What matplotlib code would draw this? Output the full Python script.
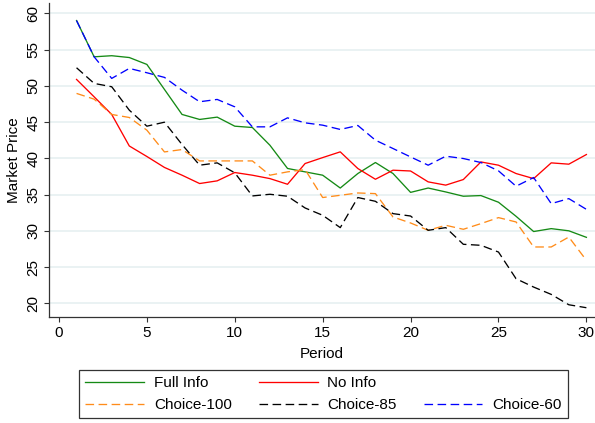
import matplotlib
matplotlib.use("Agg")
import matplotlib.pyplot as plt
from matplotlib.lines import Line2D
import numpy as np

# Average market price per trading period under each information treatment
periods = list(range(1, 31))

full_info = [59.0, 54.0, 54.15, 53.9, 52.95, 49.5, 46.05, 45.36, 45.68, 44.43,
             44.25, 41.8, 38.6, 38.13, 37.67, 35.9, 37.9, 39.42, 37.9, 35.3,
             35.9, 35.36, 34.77, 34.86, 33.94, 32.0, 29.9, 30.3, 30.0, 29.1]

no_info = [50.88, 48.48, 46.05, 41.7, 40.25, 38.74, 37.67, 36.52, 36.89, 38.04,
           37.67, 37.2, 36.42, 39.28, 40.1, 40.89, 38.59, 37.11, 38.36, 38.25,
           36.75, 36.3, 37.07, 39.5, 39.05, 37.9, 37.2, 39.37, 39.19, 40.52]

choice_100 = [48.95, 48.16, 46.05, 45.63, 43.88, 40.88, 41.21, 39.64, 39.64, 39.64,
              39.64, 37.67, 38.13, 38.44, 34.59, 34.9, 35.22, 35.13, 31.91, 31.08,
              30.07, 30.76, 30.21, 30.99, 31.82, 31.22, 27.77, 27.77, 29.14, 25.93]

choice_85 = [52.49, 50.33, 49.87, 46.64, 44.43, 44.98, 41.9, 39.05, 39.37, 38.0,
             34.81, 35.04, 34.77, 33.15, 32.14, 30.44, 34.59, 34.07, 32.37, 32.04,
             30.07, 30.44, 28.14, 28.0, 27.07, 23.39, 22.24, 21.23, 19.8, 19.39]

choice_60 = [59.0, 54.0, 51.02, 52.4, 51.8, 51.16, 49.4, 47.8, 48.12, 47.1,
             44.34, 44.34, 45.58, 44.89, 44.57, 43.98, 44.53, 42.5, 41.35, 40.19,
             39.05, 40.29, 39.97, 39.42, 38.27, 36.15, 37.35, 33.75, 34.44, 32.96]

x_ticks = [0, 5, 10, 15, 20, 25, 30]
y_ticks = [20, 25, 30, 35, 40, 45, 50, 55, 60]

plt.rcParams['font.family'] = ['Liberation Sans', 'DejaVu Sans']
plt.rcParams['font.size'] = 11

fig = plt.figure(figsize=(5.95, 4.23), dpi=100)
W, H = 595, 423
ax = fig.add_axes([49.3 / W, 1 - 317.3 / H, 1 - 49.3 / W, (317.3 - 3.3) / H])

lw = 0.95
dash = (0, (6.5, 3.4))
l_full, = ax.plot(periods, full_info, color='#158a15', lw=lw, label='Full Info')
l_no, = ax.plot(periods, no_info, color='#ff0000', lw=lw, label='No Info')
l_100, = ax.plot(periods, choice_100, color='#ff8c1a', lw=lw, ls=dash, label='Choice-100')
l_85, = ax.plot(periods, choice_85, color='#000000', lw=lw, ls=dash, label='Choice-85')
l_60, = ax.plot(periods, choice_60, color='#0000ff', lw=lw, ls=dash, label='Choice-60')

ax.set_xlim(-0.55, 30.49)
ax.set_ylim(18.07, 61.38)
ax.set_xticks(x_ticks)
ax.set_yticks(y_ticks)
ax.set_yticklabels([str(v) for v in y_ticks], rotation=90, va='center')

ax.grid(axis='y', color='#eaf2f3', lw=1.4)
ax.grid(axis='x', visible=False)
ax.set_axisbelow(True)

for side in ('top', 'right'):
    ax.spines[side].set_visible(False)
for side in ('left', 'bottom'):
    ax.spines[side].set_color('#333333')
    ax.spines[side].set_linewidth(0.9)
ax.tick_params(direction='out', length=3.8, width=0.8, color='#333333',
               labelsize=11, pad=2.5)

ax.set_xlabel('Period', fontsize=11, labelpad=5)
ax.set_ylabel('Market Price', fontsize=11, labelpad=4)

blank = Line2D([], [], color='none', label=' ')
handles = [l_full, l_100, l_no, l_85, blank, l_60]
leg = fig.legend(handles=handles, labels=[h.get_label() for h in handles],
                 ncol=3, loc='center', bbox_to_anchor=(323.5 / W, 1 - 394.3 / H),
                 frameon=True, fancybox=False, edgecolor='black',
                 handlelength=3.85, handletextpad=0.65, columnspacing=1.75,
                 labelspacing=0.5, borderpad=0.4, borderaxespad=0.0,
                 handleheight=0.7, fontsize=11)
leg.get_frame().set_linewidth(0.9)

fig.savefig('out.png', dpi=100)
